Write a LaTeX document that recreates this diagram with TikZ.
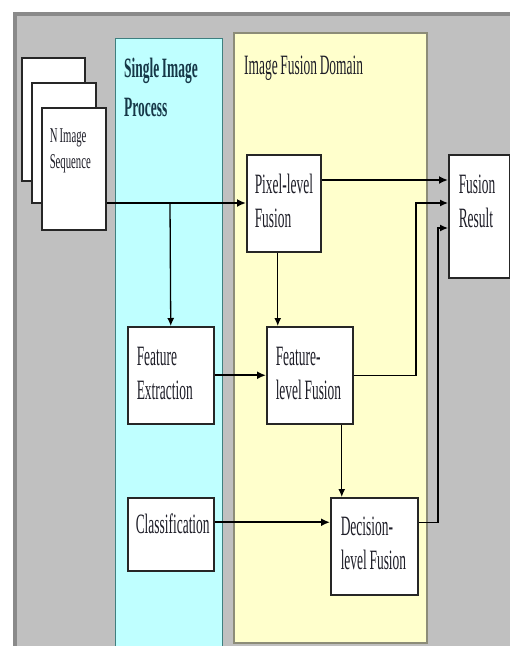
\documentclass[tikz,border=0pt]{standalone}
\usepackage{fontspec}
\setmainfont[FakeStretch=0.48, WordSpace=0.8]{Liberation Serif}
\newfontfamily\seqfont[FakeStretch=0.51, WordSpace=0.8]{Liberation Serif}
\usetikzlibrary{arrows.meta, positioning, calc}
\definecolor{cpanel}{HTML}{C0C0C0}
\definecolor{cframe}{HTML}{8A8A8A}
\definecolor{ccyan}{HTML}{BFFFFF}
\definecolor{cteal}{HTML}{3F7F7F}
\definecolor{cyellow}{HTML}{FFFFCC}
\definecolor{colive}{HTML}{8C8C78}
\definecolor{cink}{HTML}{1E1E28}
\definecolor{ctitle}{HTML}{163848}
\tikzset{
  every picture/.style={font=\fontsize{28}{34}\selectfont, text=cink},
  box/.style={draw=black!85, fill=white, line width=1.5pt, anchor=north west, align=flush left,
    inner xsep=8pt, inner ysep=0pt, execute at begin node={\exhyphenpenalty=10000 \hyphenpenalty=10000}},
  arrow/.style={-{Latex[length=9pt, width=8pt]}, draw=black, line width=2pt},
  arrowthin/.style={-{Latex[length=8pt, width=7pt]}, draw=black, line width=1.3pt},
  title/.style={inner sep=0pt, align=flush left},
}

\begin{document}
\begin{tikzpicture}[x=1pt, y=-1pt]
  \useasboundingbox (0,0) rectangle (510,646);
  \fill[white] (0,0) rectangle (510,646);
  \fill[cpanel] (13,12) rectangle (512,650);
  \draw[cframe, line width=4.5pt] (15.2,650) -- (15.2,14.2) -- (512,14.2);
  % the two domains
  \filldraw[fill=ccyan, draw=cteal, line width=1pt] (115,38) rectangle (222,652);
  \filldraw[fill=cyellow, draw=colive, line width=1.2pt] (234,33) rectangle (427,643);
  \node[title, font=\fontsize{28}{39}\selectfont\bfseries, text=ctitle, anchor=north west, text width=95pt, text height=20pt] (single) at (124,57) {Single Image\\Process};
  \node[title, anchor=base west] (domain) at (244,74) {Image Fusion Domain};

  % image stack
  \node[box, minimum width=63pt, minimum height=123pt] (img3) at (21,57) {};
  \node[box, minimum width=64pt, minimum height=120pt] (img2) at (31,82) {};
  \node[box, text width=48pt, text height=35pt, text depth=87pt, font=\seqfont\fontsize{21}{26}\selectfont] (img1) at (41,107) {N Image\\Sequence};

  \node[box, text width=58pt, text height=39pt, text depth=58pt] (pixel) at (246,154) {Pixel-level\\Fusion};
  \node[box, inner xsep=10pt, text width=41pt, text height=39pt, text depth=84pt] (result) at (448,154) {Fusion\\Result};
  \node[box, inner xsep=9pt, text width=68pt, text height=39pt, text depth=58pt] (featext) at (127,326) {Feature\\Extraction};
  \node[box, inner xsep=9pt, text width=68pt, text height=39pt, text depth=58pt] (featfus) at (266,326) {Feature-\\level Fusion};
  \node[box, text width=70pt, text height=36pt, text depth=37pt] (class) at (127,497) {Classification};
  \node[box, inner xsep=10pt, text width=67pt, text height=38pt, text depth=59pt] (decfus) at (330,497) {Decision-\\level Fusion};

  \coordinate (split) at (170,203);
  \coordinate (r1) at ([yshift=-26pt]result.north west);
  \coordinate (r2) at ([yshift=-49pt]result.north west);
  \coordinate (r3) at ([yshift=-74pt]result.north west);

  \draw[arrow] (img1.east |- split) -- (pixel.west |- split);
  \draw[arrowthin] (split) -- (featext.north);
  \draw[arrow] (pixel.east |- r1) -- (r1);
  \draw[arrowthin] ([xshift=-6pt]pixel.south) -- ([xshift=-6pt]pixel.south |- featfus.north);
  \draw[arrow] (featext) -- (featfus);
  \draw[arrowthin] (featfus.east) -| ([xshift=-32pt]r2) -- (r2);
  \draw[arrowthin] ([xshift=32pt]featfus.south) -- ([xshift=32pt]featfus.south |- decfus.north);
  \draw[arrow] ([yshift=12pt]class.east) -- ([yshift=12pt]class.east -| decfus.west);
  \draw[arrowthin] ([yshift=24pt]decfus.east) -| ([xshift=-10pt]r3) -- (r3);
\end{tikzpicture}
\end{document}
